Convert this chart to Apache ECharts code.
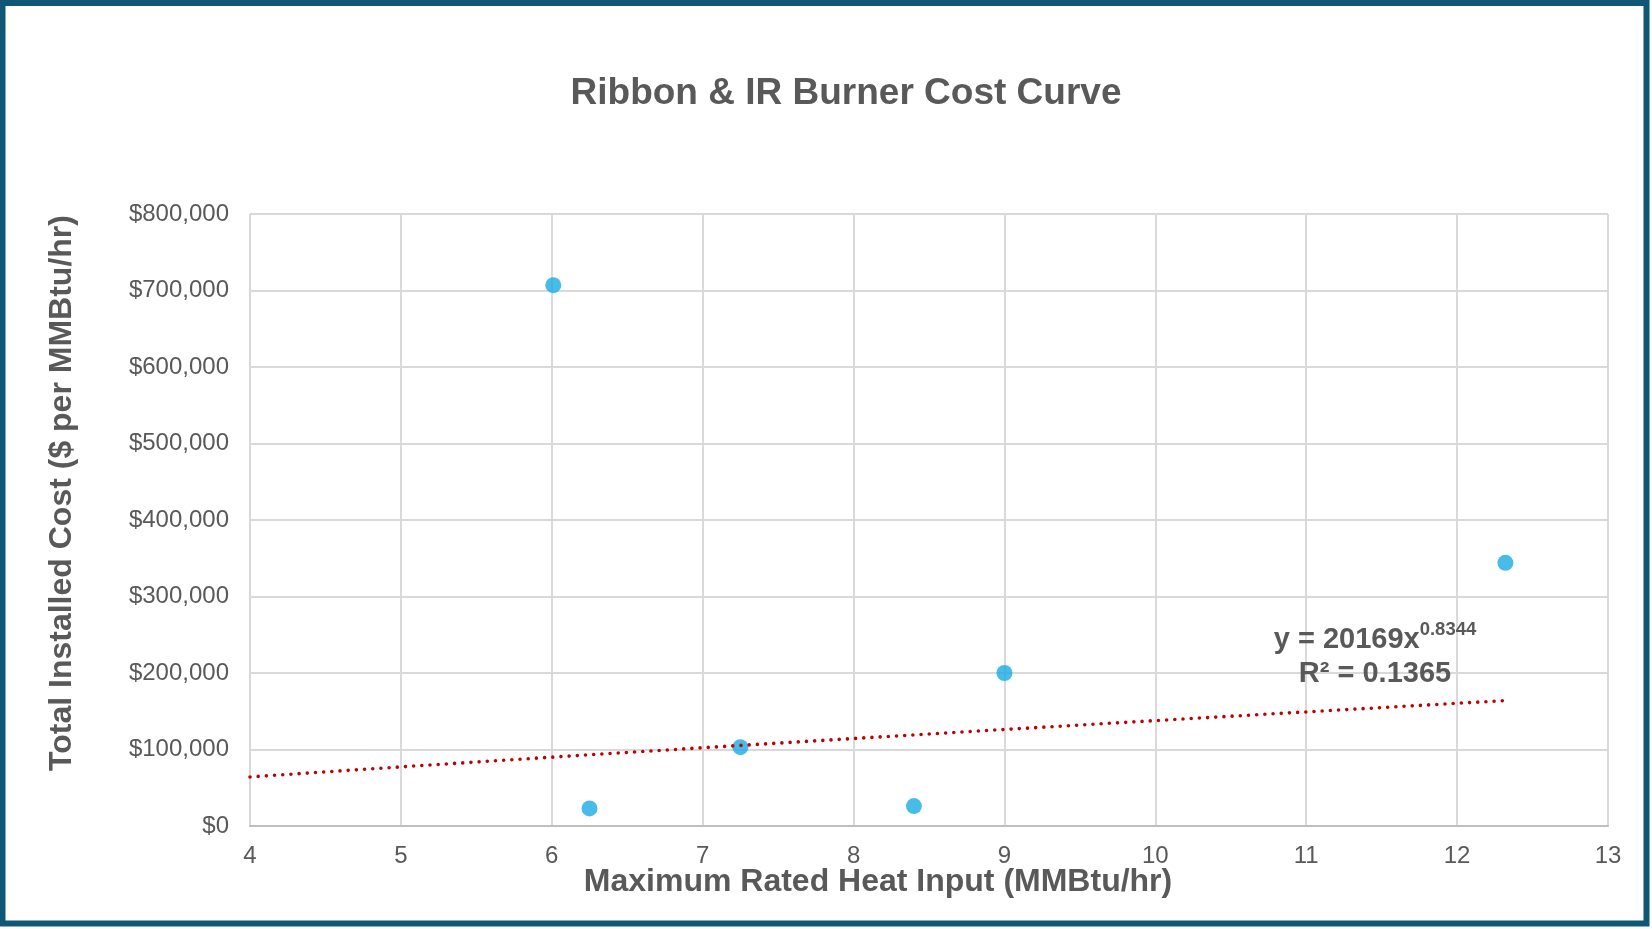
<!DOCTYPE html>
<html>
<head>
<meta charset="utf-8">
<script src="https://cdn.jsdelivr.net/npm/echarts@6/dist/echarts.min.js"></script>
<style>
html,body{margin:0;padding:0;background:#fff;}
#chart{width:1652px;height:929px;}
</style>
</head>
<body>
<div id="chart"></div>
<script>
// ---- data ----
const chartTitle = 'Ribbon & IR Burner Cost Curve';
const xAxisTitle = 'Maximum Rated Heat Input (MMBtu/hr)';
const yAxisTitle = 'Total Installed Cost ($ per MMBtu/hr)';
const heatInput = [6.01, 6.25, 7.25, 8.40, 9.00, 12.32];
const installedCost = [707000, 23000, 103000, 26000, 200000, 344000];
// power trendline shown on the chart: y = 20169 x^0.8344, R² = 0.1365
const trendCoef = 20169;
const trendExp = 0.8344;
const trendR2 = '0.1365';
const trendRange = [4, 12.32];
const xTicks = [4, 5, 6, 7, 8, 9, 10, 11, 12, 13];
const yTicks = [0, 100000, 200000, 300000, 400000, 500000, 600000, 700000, 800000];

const scatterData = heatInput.map((x, i) => [x, installedCost[i]]);
const trendData = [];
for (let k = 0; k <= 40; k++) {
  const x = trendRange[0] + (trendRange[1] - trendRange[0]) * k / 40;
  trendData.push([x, trendCoef * Math.pow(x, trendExp)]);
}

const gray = '#595959';
const chart = echarts.init(document.getElementById('chart'), null, {renderer: 'canvas'});
chart.setOption({
  backgroundColor: '#ffffff',
  animation: false,
  grid: {left: 250, right: 44, top: 214, bottom: 103, containLabel: false},
  xAxis: {
    type: 'value',
    min: xTicks[0], max: xTicks[xTicks.length - 1], interval: 1,
    name: xAxisTitle,
    nameLocation: 'middle',
    nameGap: 40,
    nameMoveOverlap: false,
    nameTextStyle: {fontFamily: 'Liberation Sans', fontSize: 32, fontWeight: 'bold', color: gray, padding: [0, 102, 0, 0], verticalAlign: 'top'},
    axisLine: {show: true, lineStyle: {color: '#BFBFBF', width: 2}},
    axisTick: {show: false},
    axisLabel: {fontFamily: 'Liberation Sans', fontSize: 24, color: gray, margin: 18},
    splitLine: {show: true, lineStyle: {color: '#D9D9D9', width: 2}}
  },
  yAxis: {
    type: 'value',
    min: yTicks[0], max: yTicks[yTicks.length - 1], interval: 100000,
    name: yAxisTitle,
    nameLocation: 'middle',
    nameGap: 172,
    nameMoveOverlap: false,
    nameTextStyle: {fontFamily: 'Liberation Sans', fontSize: 32, fontWeight: 'bold', color: gray, padding: [0, 0, 0, 54]},
    axisLine: {show: false},
    axisTick: {show: false},
    axisLabel: {
      fontFamily: 'Liberation Sans', fontSize: 24, color: gray, margin: 21,
      padding: [4, 0, 0, 0],
      formatter: v => '$' + v.toLocaleString('en-US')
    },
    splitLine: {show: true, lineStyle: {color: '#D9D9D9', width: 2}}
  },
  series: [
    {
      type: 'scatter',
      data: scatterData,
      symbol: 'circle',
      symbolSize: 16,
      itemStyle: {color: '#1AABE3'},
      z: 3
    },
    {
      type: 'line',
      data: trendData,
      showSymbol: false,
      symbol: 'none',
      silent: true,
      lineStyle: {color: '#C00000', width: 3.6, type: [0, 8.2], cap: 'round'},
      z: 4
    }
  ],
  graphic: [
    {
      type: 'rect',
      shape: {x: 2.5, y: 3, width: 1644, height: 920.5},
      style: {fill: null, stroke: '#0F5775', lineWidth: 6},
      silent: true, z: 100
    },
    {
      type: 'text',
      x: 846, y: 94,
      style: {
        text: chartTitle,
        fontFamily: 'Liberation Sans', fontSize: 37, fontWeight: 'bold',
        fill: gray, align: 'center', verticalAlign: 'middle'
      }
    },
    {
      type: 'text',
      x: 1375, y: 654,
      z: 10,
      style: {
        text: '{m|y = ' + trendCoef + 'x}{s|' + trendExp + '}\n{m|R² = ' + trendR2 + '}',
        align: 'center', verticalAlign: 'middle',
        fill: gray,
        rich: {
          m: {fontFamily: 'Liberation Sans', fontSize: 29, fontWeight: 'bold', fill: gray, lineHeight: 34, verticalAlign: 'bottom'},
          s: {fontFamily: 'Liberation Sans', fontSize: 18.5, fontWeight: 'bold', fill: gray, lineHeight: 34, verticalAlign: 'top', padding: [0, 0, 3, 0]}
        }
      }
    }
  ]
});
</script>
</body>
</html>
